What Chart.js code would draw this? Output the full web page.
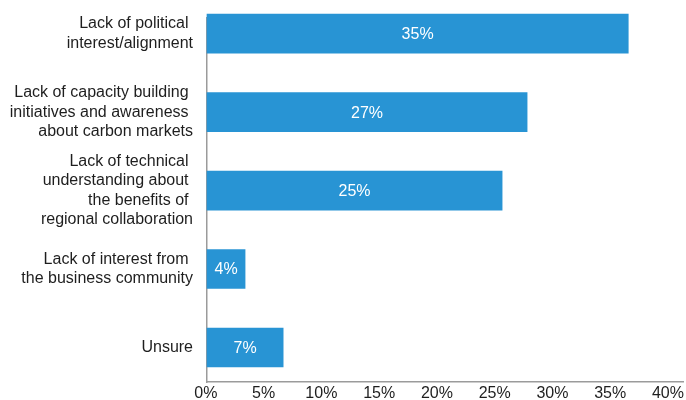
<!DOCTYPE html>
<html>
<head>
<meta charset="utf-8">
<script src="https://cdn.jsdelivr.net/npm/chart.js@4"></script>
<style>
  html, body { margin: 0; padding: 0; background: #fff; }
  #wrap { width: 686px; height: 400px; }
</style>
</head>
<body>
<div id="wrap"><canvas id="barriersChart"></canvas></div>
<script>
// Categories (trailing spaces kept: the source labels have them)
const categories = [
  ['Lack of political ', 'interest/alignment'],
  ['Lack of capacity building ', 'initiatives and awareness ', 'about carbon markets'],
  ['Lack of technical ', 'understanding about ', 'the benefits of ', 'regional collaboration'],
  ['Lack of interest from ', 'the business community'],
  'Unsure'
];
// Bar lengths as drawn, and the labels printed on them
const shares = [35.4, 26.9, 24.8, 3.2, 6.4];
const shareLabels = ['35%', '27%', '25%', '4%', '7%'];
const xTicks = [0, 5, 10, 15, 20, 25, 30, 35, 40];

const FONT = "'Liberation Sans', Arial, Helvetica, sans-serif";
const TEXT = '#1e1e1e';
const AXIS = '#9b9b9b';
const BAR = '#2894d4';

// White value labels centred inside each bar
const barValueLabels = {
    id: 'barValueLabels',
    afterDatasetsDraw(chart) {
        const ctx = chart.ctx;
        const meta = chart.getDatasetMeta(0);
        ctx.save();
        ctx.fillStyle = '#fff';
        ctx.font = '16px ' + FONT;
        ctx.textAlign = 'center';
        ctx.textBaseline = 'middle';
        meta.data.forEach((bar, i) => {
            const p = bar.getProps(['x', 'y', 'base'], true);
            ctx.fillText(shareLabels[i], (p.x + p.base) / 2, p.y + 1);
        });
        ctx.restore();
    }
};

const ctx = document.getElementById('barriersChart').getContext('2d');
new Chart(ctx, {
    type: 'bar',
    data: {
        datasets: [{
            data: shares.map((v, i) => ({ x: v, y: i })),
            backgroundColor: BAR,
            barThickness: 39,
            clip: false, // first bar pokes a little above the axis line
            xAxisID: 'x',
            yAxisID: 'y'
        }]
    },
    options: {
        indexAxis: 'y',
        responsive: true,
        maintainAspectRatio: false,
        animation: false,
        layout: { padding: { top: 18, right: 3, bottom: 0, left: 0 } },
        plugins: {
            legend: { display: false },
            tooltip: { enabled: false }
        },
        scales: {
            x: {
                type: 'linear',
                min: 0,
                max: 40,
                offset: false,
                grid: { display: false, drawTicks: false },
                border: { color: AXIS, width: 1.5 },
                ticks: { display: false },
                afterFit: s => { s.height = 0; s.paddingLeft = 0; s.paddingRight = 0; }
            },
            // label-only axis: the source prints its % ticks a bit tighter than the bar scale
            xLabels: {
                type: 'linear',
                axis: 'x',
                position: 'bottom',
                min: 0.1,
                max: 41.3,
                offset: false,
                grid: { display: false, drawTicks: false },
                border: { display: false },
                afterBuildTicks: s => { s.ticks = xTicks.map(v => ({ value: v })); },
                afterFit: s => { s.height = 18; s.paddingLeft = 0; s.paddingRight = 0; },
                ticks: {
                    padding: 6,
                    color: TEXT,
                    autoSkip: false,
                    maxRotation: 0,
                    font: { family: FONT, size: 16, lineHeight: 0.75 },
                    callback: v => v + '%'
                }
            },
            y: {
                type: 'linear',
                reverse: true,
                min: -0.2,
                max: 4.44,
                offset: false,
                grid: { display: false, drawTicks: false },
                border: { color: AXIS, width: 1.5 },
                afterBuildTicks: s => { s.ticks = categories.map((c, i) => ({ value: i })); },
                afterFit: s => { s.width = 207; s.paddingTop = 0; s.paddingBottom = 0; },
                ticks: {
                    padding: 14,
                    color: TEXT,
                    autoSkip: false,
                    font: { family: FONT, size: 16, lineHeight: 1.2 },
                    callback: v => categories[v]
                }
            }
        }
    },
    plugins: [barValueLabels]
});
</script>
</body>
</html>
